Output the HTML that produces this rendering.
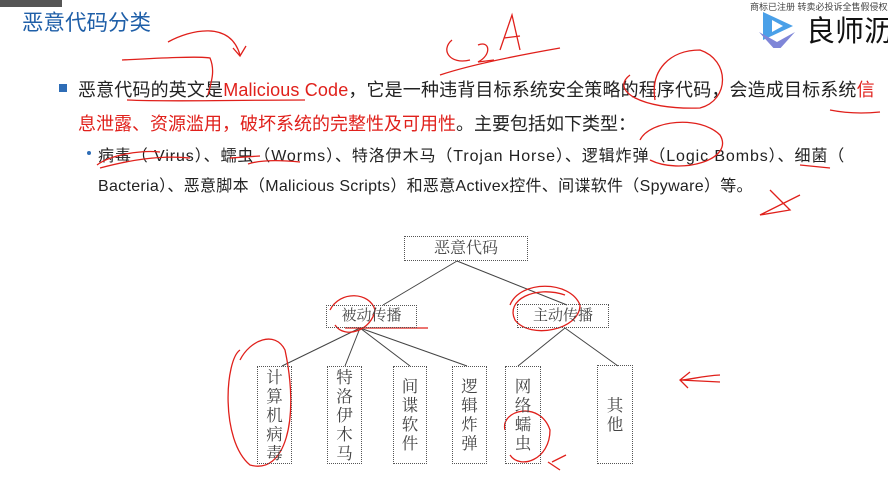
<!DOCTYPE html>
<html><head><meta charset="utf-8"><style>
body{margin:0;width:888px;height:481px;overflow:hidden;background:#fff;position:relative;font-family:"Liberation Sans","Noto Sans CJK SC",sans-serif;}
.a{position:absolute;white-space:nowrap;}
.t{left:22px;top:6px;font-size:21.5px;color:#1f5fa8;}
.l1{left:78px;top:76px;font-size:18px;color:#222;letter-spacing:0.15px}
.l2{left:78px;top:110px;font-size:18px;color:#222;}
.r{color:#e0201b}
.s{left:98px;top:142px;font-size:16px;color:#222;letter-spacing:0.9px}
.s2{left:98px;top:172px;font-size:16px;color:#222;letter-spacing:0.3px}
.box{position:absolute;border:1.3px dotted #555;box-sizing:border-box;font-family:"Liberation Serif","Noto Serif CJK SC",serif;color:#444;text-align:center;background:transparent}
.v{font-size:16.5px;line-height:19px;display:flex;flex-direction:column;justify-content:center;align-items:center}
</style></head><body>
<div class="a" style="left:0;top:0;width:62px;height:7px;background:#555;"></div>
<div class="a t">恶意代码分类</div>
<div class="a" style="left:750px;top:0;font-size:9px;color:#444;">商标已注册 转卖必投诉全售假侵权封店为止</div>
<svg class="a" style="left:755px;top:8px" width="50" height="40"><path d="M8 4 L38 18 L8 32Z" fill="#4aa0e8"/><path d="M4 24 L22 34 L40 24 L22 44Z" fill="#7f86d8"/><path d="M17 12 L28 18 L17 24Z" fill="#fff"/></svg>
<div class="a" style="left:806px;top:8px;font-size:29px;color:#111;">良师沥</div>

<div class="a" style="left:59px;top:84px;width:8px;height:8px;background:#2e6db6;"></div>
<div class="a l1">恶意代码的英文是<span class="r">Malicious Code</span>，它是一种违背目标系统安全策略的程序代码，会造成目标系统<span class="r">信</span></div>
<div class="a l2"><span class="r">息泄露、资源滥用，破坏系统的完整性及可用性</span>。主要包括如下类型：</div>
<div class="a" style="left:87px;top:151px;width:4px;height:4px;border-radius:2px;background:#2e6db6;"></div>
<div class="a s">病毒（ Virus）、蠕虫（Worms）、特洛伊木马（Trojan Horse）、逻辑炸弹（Logic Bombs）、细菌（</div>
<div class="a s2">Bacteria）、恶意脚本（Malicious Scripts）和恶意Activex控件、间谍软件（Spyware）等。</div>

<svg class="a" style="left:0;top:0" width="888" height="481">
<g stroke="#444" stroke-width="1" fill="none">
<line x1="457" y1="261" x2="383" y2="305"/><line x1="457" y1="261" x2="567" y2="305"/>
<line x1="360" y1="328" x2="282" y2="366"/><line x1="360" y1="328" x2="345" y2="366"/>
<line x1="360" y1="328" x2="410" y2="366"/><line x1="360" y1="328" x2="467" y2="366"/>
<line x1="565" y1="328" x2="518" y2="366"/><line x1="565" y1="328" x2="618" y2="366"/>
</g>
<g stroke="#e0201b" stroke-width="1.3" fill="none">
<path d="M168 42 C190 30 230 20 240 55"/><path d="M233 48 L240 56 L246 46"/>
<path d="M452 40 C440 50 450 65 470 60 M478 45 C490 40 492 55 478 62 L494 60 M500 50 L512 15 L520 50 M504 38 L520 36"/>
<path d="M440 75 C470 65 520 55 560 48"/>
<path d="M122 60 C160 58 200 56 210 58 C215 70 212 80 208 95 M127 100 C170 102 230 100 305 100"/>
<path d="M630 75 C610 90 640 110 700 108 C730 100 730 60 700 50 C670 50 650 70 655 100"/>
<path d="M830 110 C850 114 870 113 880 112"/>
<path d="M97 165 C110 155 140 150 160 152 M100 168 C130 160 160 155 190 158"/>
<path d="M230 158 L260 156 M248 164 C260 160 280 160 300 162"/>
<path d="M640 140 C650 120 700 115 720 135 C735 160 680 175 650 160"/>
<path d="M800 165 L830 168"/>
<path d="M770 190 L790 210 L760 215 L800 195"/>
<path d="M240 350 C225 360 220 440 250 465 C285 475 300 420 285 350 C275 330 250 340 240 360"/>
<path d="M330 310 C340 290 370 292 375 310 C372 330 345 340 335 325"/>
<path d="M345 328 L428 328"/>
<path d="M510 305 C520 280 570 280 580 305 C580 330 530 340 515 320 C505 300 535 285 565 295"/>
<path d="M505 430 C500 410 540 400 550 430 C550 460 520 470 510 455"/>
<path d="M548 462 L560 470 M552 462 L566 455"/>
<path d="M720 375 C700 376 690 380 680 380 L720 382 M690 372 L680 380 L688 388"/>
</g>
</svg>

<div class="box" style="left:404px;top:236px;width:124px;height:25px;font-size:16px;line-height:23px;">恶意代码</div>
<div class="box" style="left:326px;top:305px;width:91px;height:23px;font-size:15px;line-height:21px;">被动传播</div>
<div class="box" style="left:517px;top:304px;width:92px;height:24px;font-size:15px;line-height:22px;">主动传播</div>
<div class="box v" style="left:257px;top:366px;width:35px;height:98px;"><span>计</span><span>算</span><span>机</span><span>病</span><span>毒</span></div>
<div class="box v" style="left:327px;top:366px;width:35px;height:98px;"><span>特</span><span>洛</span><span>伊</span><span>木</span><span>马</span></div>
<div class="box v" style="left:393px;top:366px;width:34px;height:98px;"><span>间</span><span>谍</span><span>软</span><span>件</span></div>
<div class="box v" style="left:452px;top:366px;width:35px;height:98px;"><span>逻</span><span>辑</span><span>炸</span><span>弹</span></div>
<div class="box v" style="left:505px;top:366px;width:36px;height:98px;"><span>网</span><span>络</span><span>蠕</span><span>虫</span></div>
<div class="box v" style="left:597px;top:365px;width:36px;height:99px;"><span>其</span><span>他</span></div>
</body></html>
